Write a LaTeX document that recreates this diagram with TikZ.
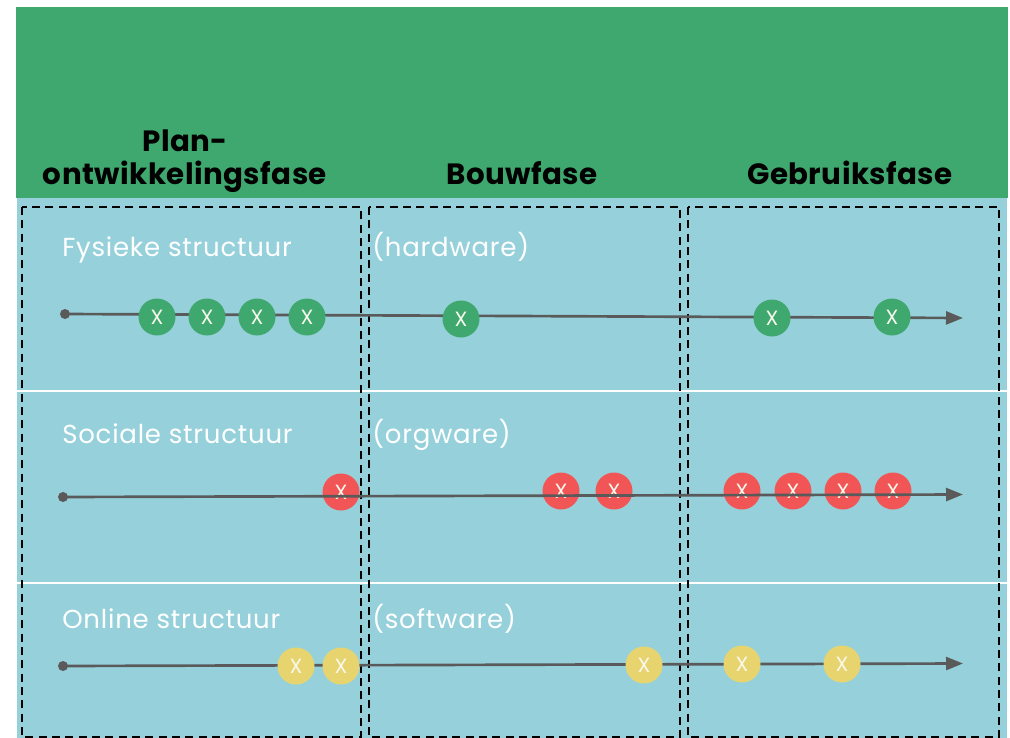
\documentclass[tikz,border=0pt]{standalone}
\usepackage{fontspec}
\setmainfont{Poppins}
\usetikzlibrary{arrows.meta}
\definecolor{hdrgreen}{HTML}{3FA86F}
\definecolor{bgblue}{HTML}{96D1DB}
\definecolor{xred}{HTML}{F25555}
\definecolor{xyellow}{HTML}{E8D46E}
\definecolor{linegrey}{HTML}{5A5A5A}
\definecolor{xwhite}{HTML}{F8F8EC}
\begin{document}
\begin{tikzpicture}[x=0.75pt,y=-0.75pt,
  phase/.style={font=\bfseries\fontsize{22}{24.75}\selectfont\addfontfeature{LetterSpace=1.5}, text=black, inner sep=0pt},
  rowlabel/.style={font=\fontsize{19.5}{23}\selectfont\addfontfeature{LetterSpace=3}, text=white, anchor=base west, inner sep=0pt},
  xcirc/.style={circle, minimum size=27.75pt, inner sep=0pt, text=xwhite, font=\fontsize{15.5}{15.5}\selectfont},
  gx/.style={xcirc, fill=hdrgreen},
  rx/.style={xcirc, fill=xred},
  yx/.style={xcirc, fill=xyellow},
  startdot/.style={circle, fill=linegrey, minimum size=7.5pt, inner sep=0pt},
  timeline/.style={draw=linegrey, line width=2pt, -{Triangle[length=12.75pt,width=9.75pt]}},
  phasebox/.style={draw=black, line width=1.5pt, dash pattern=on 6pt off 4pt},
  sepline/.style={draw=white, line width=1.5pt}]
\useasboundingbox (0,0) rectangle (1010,738);
% backgrounds
\fill[hdrgreen] (16,7) rectangle (1008,198);
\fill[bgblue] (17,198) rectangle (1007,738);
\draw[sepline] (17,390.5) -- (1007,390.5);
\draw[sepline] (17,583) -- (1007,583);
% phase boxes
\draw[phasebox] (22,207) rectangle (361,737);
\draw[phasebox] (369,207) rectangle (680,737);
\draw[phasebox] (688,207) rectangle (999,737);
% headers
\node[phase, align=center, anchor=base] (p1) at (185,185) {Plan-\\ontwikkelingsfase};
\node[phase, anchor=base] (p2) at (522,185) {Bouwfase};
\node[phase, anchor=base] (p3) at (850,185) {Gebruiksfase};
% row labels
\node[rowlabel] (l1) at (62,256) {Fysieke structuur};
\node[rowlabel] (w1) at (372,256) {(hardware)};
\node[rowlabel] (l2) at (62,443) {Sociale structuur};
\node[rowlabel] (w2) at (372,443) {(orgware)};
\node[rowlabel] (l3) at (62,628) {Online structuur};
\node[rowlabel] (w3) at (372,628) {(software)};
% row 1
\node[startdot] (s1) at (65,314) {};
\coordinate (e1) at (963,318);
\draw[timeline] (s1.center) -- (e1);
\node[gx] (a1) at (157,317) {X};
\node[gx] (a2) at (207,317) {X};
\node[gx] (a3) at (257,317) {X};
\node[gx] (a4) at (307,317) {X};
\node[gx] (a5) at (461,319) {X};
\node[gx] (a6) at (772,318) {X};
\node[gx] (a7) at (892,317) {X};
% row 2
\node[rx] (b1) at (341,492) {X};
\node[rx] (b2) at (561,491) {X};
\node[rx] (b3) at (614,491) {X};
\node[rx] (b4) at (742,491) {X};
\node[rx] (b5) at (793,491) {X};
\node[rx] (b6) at (843,491) {X};
\node[rx] (b7) at (893,491) {X};
\node[startdot] (s2) at (63,497) {};
\coordinate (e2) at (963,494.5);
\draw[timeline] (s2.center) -- (e2);
% row 3
\node[startdot] (s3) at (63,666) {};
\coordinate (e3) at (963,663.5);
\draw[timeline] (s3.center) -- (e3);
\node[yx] (c1) at (296,666) {X};
\node[yx] (c2) at (341,666) {X};
\node[yx] (c3) at (644,665) {X};
\node[yx] (c4) at (742,664) {X};
\node[yx] (c5) at (842,664) {X};
\end{tikzpicture}
\end{document}
